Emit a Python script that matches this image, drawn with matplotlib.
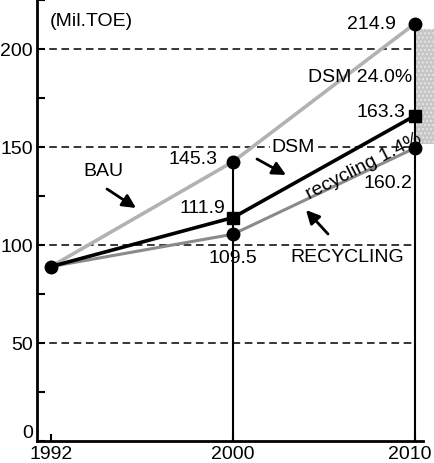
from matplotlib import pyplot as plt
from matplotlib.ticker import MultipleLocator
from matplotlib.transforms import ScaledTranslation

# values (plotted heights) and the printed labels
years = ["1992", "2000", "2010"]
bau = [89, 142.5, 213]
dsm = [89, 114, 166]
recycling = [89, 105.5, 149.5]
bau_labels = ["145.3", "214.9"]
dsm_labels = ["111.9", "163.3"]
rec_labels = ["109.5", "160.2"]
y_ticks = [0, 50, 100, 150, 200]

W, H = 434, 464


def px(x, y):
    # figure pixel (from top-left) -> figure fraction
    return x / W, 1 - y / H


def main() -> None:
    plt.rcParams["font.family"] = ["Liberation Sans", "DejaVu Sans"]
    plt.rcParams["font.size"] = 14

    fig = plt.figure(figsize=(W / 100, H / 100), dpi=100)
    ax = fig.add_axes([37 / W, 22 / H, 1 - 37 / W, 1 - 22 / H])

    xs = list(range(len(years)))
    xmin, xmax = -14 / 182, 383 / 182
    ax.set_xlim(xmin, xmax)
    ax.set_ylim(0, 442 / 1.96)

    # dashed reference lines stop at the 2010 line
    ax.hlines(y_ticks[1:], xmin, xs[-1], colors="black", linewidth=1.1,
              linestyles=(0, (5, 3)), zorder=1)

    # shaded gap at the right edge
    ax.fill_between([xs[-1], xmax], recycling[-1] + 2, bau[-1] - 3,
                    facecolor="#c6c6c6", edgecolor="#e6e6e6", hatch="....",
                    linewidth=0, zorder=1, clip_on=False)

    # vertical drop lines
    ax.vlines(xs[1:], 0, bau[1:], colors="black", linewidth=1.5, zorder=2)

    ax.plot(xs, bau, color="#b2b2b2", linewidth=2.6, zorder=3)
    ax.plot(xs, recycling, color="#8a8a8a", linewidth=2.2, zorder=3)
    ax.plot(xs, dsm, color="black", linewidth=2.6, zorder=4)

    ax.plot(xs, bau, "o", color="black", markersize=9, zorder=5)
    ax.plot(xs[1:], recycling[1:], "o", color="black", markersize=9, zorder=5)
    ax.plot(xs[1:], dsm[1:], "s", color="black", markersize=8.5, zorder=6)

    # value labels, offsets in pixels from the points
    def lab(text, x, y, dx, dy, ha="right"):
        ax.annotate(text, (x, y), xytext=(dx, dy), textcoords="offset pixels",
                    ha=ha, va="center", fontsize=14, zorder=7)

    lab(bau_labels[0], xs[1], bau[1], -16, 3)
    lab(bau_labels[1], xs[2], bau[2], -19, 0)
    lab(dsm_labels[0], xs[1], dsm[1], -8, 10)
    lab(dsm_labels[1], xs[2], dsm[2], -10, 4)
    lab(rec_labels[0], xs[1], recycling[1], 0, -23, ha="center")
    lab(rec_labels[1], xs[2], recycling[2], -3, -35)

    fig.text(*px(50, 22), "(Mil.TOE)", ha="left", va="center", fontsize=14)
    fig.text(*px(412, 77), "DSM 24.0%", ha="right", va="center", fontsize=14)
    fig.text(*px(83, 172), "BAU", ha="left", va="center", fontsize=14)
    fig.text(*px(293, 148), "DSM", ha="center", va="center", fontsize=14,
             bbox=dict(facecolor="white", edgecolor="none", pad=1), zorder=8)
    fig.text(*px(290, 258), "RECYCLING", ha="left", va="center", fontsize=14)
    fig.text(*px(364, 167), "recycling 1.4%", ha="center", va="center",
             fontsize=14, rotation=27, rotation_mode="anchor", zorder=8)

    arrow = dict(arrowstyle="-|>", color="black", lw=2, mutation_scale=20,
                 shrinkA=0, shrinkB=0)
    for start, end in [((107, 190), (136, 209)),
                       ((257, 160), (286, 176)),
                       ((328, 235), (306, 211))]:
        ax.annotate("", xy=px(*end), xytext=px(*start), xycoords="figure fraction",
                    textcoords="figure fraction", arrowprops=arrow)

    ax.set_xticks(xs, years)
    ax.set_yticks(y_ticks)
    ax.yaxis.set_minor_locator(MultipleLocator(25))
    ax.tick_params(axis="y", which="both", direction="in", length=6, width=1.5, pad=3)
    ax.tick_params(axis="x", direction="in", length=5, width=1.5, pad=3)
    ax.get_yticklabels()[0].set_va("bottom")
    last = ax.get_xticklabels()[-1]
    last.set_transform(last.get_transform()
                       + ScaledTranslation(-0.05, 0, fig.dpi_scale_trans))

    for side in ["top", "right"]:
        ax.spines[side].set_visible(False)
    ax.spines["left"].set_linewidth(2)
    ax.spines["bottom"].set_linewidth(2)
    ax.spines["bottom"].set_bounds(xmin, 372 / 182)

    fig.savefig("out.png", dpi=100)


if __name__ == "__main__":
    main()
